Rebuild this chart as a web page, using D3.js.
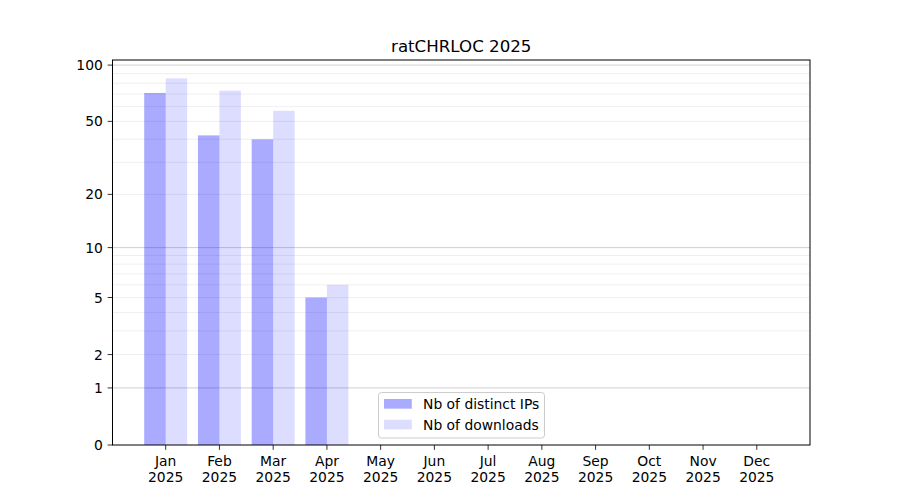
<!DOCTYPE html>
<html>
<head>
<meta charset="utf-8">
<script src="https://cdn.jsdelivr.net/npm/d3@7"></script>
<style>
  body { margin: 0; background: #fff; }
  svg { display: block; font-family: "DejaVu Sans", sans-serif; }
</style>
</head>
<body>
<svg id="chart" width="900" height="500"></svg>
<script>
const title = "ratCHRLOC 2025";
const months = ["Jan","Feb","Mar","Apr","May","Jun","Jul","Aug","Sep","Oct","Nov","Dec"];
const yearLabel = "2025";
const distinctIPs = [71, 42, 40, 5, 0, 0, 0, 0, 0, 0, 0, 0];
const downloads = [85, 73, 57, 6, 0, 0, 0, 0, 0, 0, 0, 0];
const seriesNames = ["Nb of distinct IPs", "Nb of downloads"];
const yTickValues = [0, 1, 2, 5, 10, 20, 50, 100];
const majorGrid = [1, 10, 100];
const minorGrid = [2,3,4,5,6,7,8,9,20,30,40,50,60,70,80,90];

(function () {
const svg = d3.select("#chart");
const pl = 112.5, pr = 810, pt = 60, pb = 445;
const fs = "13.89px";

// x: categorical positions with bar width 0.4
const x = d3.scaleLinear().domain([-0.99, 11.99]).range([pl, pr]);
// y: log10(1+v) function scale
const ymax = d3.max(downloads.concat(distinctIPs));
const tmax = Math.log10(1 + ymax) * 1.05;
const yt = d3.scaleLinear().domain([0, tmax]).range([pb, pt]);
const y = v => yt(Math.log10(1 + v));

// grid
const g = svg.append("g");
g.selectAll("line.minor").data(minorGrid).join("line")
  .attr("class", "minor")
  .attr("x1", pl).attr("x2", pr)
  .attr("y1", d => y(d)).attr("y2", d => y(d))
  .attr("stroke", "#ebebeb").attr("stroke-width", 0.8);
g.selectAll("line.major").data(majorGrid).join("line")
  .attr("class", "major")
  .attr("x1", pl).attr("x2", pr)
  .attr("y1", d => y(d)).attr("y2", d => y(d))
  .attr("stroke", "#c4c4c4").attr("stroke-width", 0.8);

// bars
const bw = 0.4;
svg.append("g").selectAll("rect").data(distinctIPs).join("rect")
  .attr("x", (d, i) => x(i - bw))
  .attr("width", (d, i) => x(i) - x(i - bw))
  .attr("y", d => y(d))
  .attr("height", d => pb - y(d))
  .attr("fill", "blue").attr("fill-opacity", 0.333);
svg.append("g").selectAll("rect").data(downloads).join("rect")
  .attr("x", (d, i) => x(i))
  .attr("width", (d, i) => x(i + bw) - x(i))
  .attr("y", d => y(d))
  .attr("height", d => pb - y(d))
  .attr("fill", "blue").attr("fill-opacity", 0.133);

// frame
svg.append("rect").attr("x", pl).attr("y", pt)
  .attr("width", pr - pl).attr("height", pb - pt)
  .attr("fill", "none").attr("stroke", "#000").attr("stroke-width", 1);

// y ticks
const yAxis = svg.append("g");
yTickValues.forEach(v => {
  const yy = y(v);
  yAxis.append("line").attr("x1", pl - 4.86).attr("x2", pl)
    .attr("y1", yy).attr("y2", yy).attr("stroke", "#000").attr("stroke-width", 0.8);
  yAxis.append("text").attr("x", pl - 9.7).attr("y", yy)
    .attr("text-anchor", "end").attr("dominant-baseline", "central")
    .attr("font-size", fs).attr("fill", "#000").text(v);
});

// x ticks
const xAxis = svg.append("g");
months.forEach((m, i) => {
  const xx = x(i);
  xAxis.append("line").attr("x1", xx).attr("x2", xx)
    .attr("y1", pb).attr("y2", pb + 4.86).attr("stroke", "#000").attr("stroke-width", 0.8);
  const t = xAxis.append("text").attr("x", xx).attr("text-anchor", "middle")
    .attr("font-size", fs).attr("fill", "#000");
  t.append("tspan").attr("x", xx).attr("y", 465.7).text(m);
  t.append("tspan").attr("x", xx).attr("y", 482.2).text(yearLabel);
});

// title
svg.append("text").attr("x", (pl + pr) / 2).attr("y", 52)
  .attr("text-anchor", "middle").attr("font-size", "16.67px").attr("fill", "#000").text(title);

// legend
const lg = svg.append("g");
lg.append("rect").attr("x", 378.5).attr("y", 392.5).attr("width", 166).attr("height", 45.5)
  .attr("rx", 3).attr("fill", "#fff").attr("fill-opacity", 0.8)
  .attr("stroke", "#cccccc").attr("stroke-width", 1);
const legendOpac = [0.333, 0.133];
seriesNames.forEach((name, i) => {
  const yy = 399 + i * 20.7;
  lg.append("rect").attr("x", 384).attr("y", yy).attr("width", 27.8).attr("height", 9.7)
    .attr("fill", "blue").attr("fill-opacity", legendOpac[i]);
  lg.append("text").attr("x", 423).attr("y", yy + 5).attr("dominant-baseline", "central")
    .attr("font-size", fs).attr("fill", "#000").text(name);
});
})();
</script>
</body>
</html>
